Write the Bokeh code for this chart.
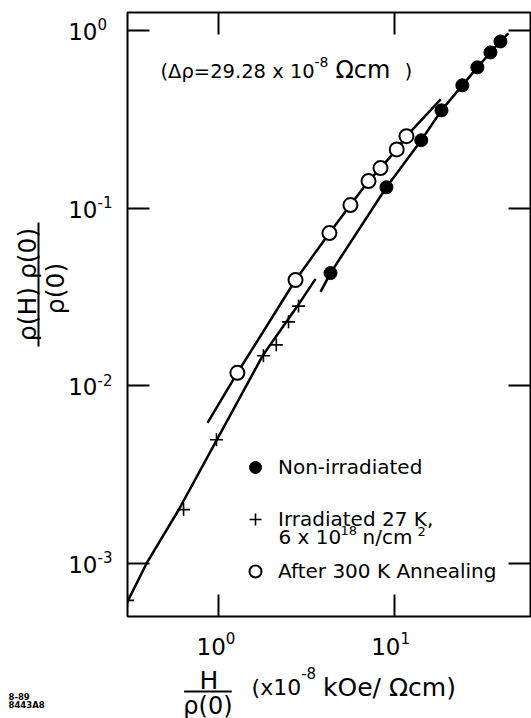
import math
from bokeh.plotting import figure
from bokeh.layouts import row, column
from bokeh.models import (Range1d, LogAxis, FixedTicker, CustomJSTickFormatter, Label,
                          Legend, LegendItem, BoxAnnotation)
from bokeh.embed import file_html
from bokeh.resources import INLINE

# ---------------- data ----------------
nonirr_x = [4.33, 9.0, 14.2, 18.5, 24.3, 29.6, 35.1, 40.0]
nonirr_y = [0.0431, 0.131, 0.241, 0.355, 0.491, 0.620, 0.752, 0.867]
nonirr_fit_x = [3.80, 4.33, 9.0, 14.2, 18.5, 24.3, 29.6, 35.1, 40.0, 44.4]
nonirr_fit_y = [0.0338, 0.0431, 0.131, 0.241, 0.355, 0.491, 0.620, 0.752, 0.867, 0.962]

irr_x = [0.304, 0.633, 0.974, 1.80, 2.13, 2.50, 2.85]
irr_y = [6.2e-4, 2.01e-3, 4.97e-3, 1.475e-2, 1.70e-2, 2.29e-2, 2.81e-2]
irr_fit_x = [0.304, 0.390, 0.593, 0.987, 1.78, 2.81, 3.56]
irr_fit_y = [6.1e-4, 1.0e-3, 2.0e-3, 5.04e-3, 1.475e-2, 2.81e-2, 4.0e-2]

ann_x = [1.28, 2.74, 4.27, 5.62, 7.12, 8.33, 10.3, 11.7]
ann_y = [0.01183, 0.0394, 0.0724, 0.104, 0.142, 0.168, 0.214, 0.254]
ann_fit_x = [0.866, 1.28, 2.74, 4.27, 5.62, 7.12, 8.33, 10.3, 11.7, 18.3]
ann_fit_y = [0.00619, 0.01183, 0.0394, 0.0724, 0.104, 0.142, 0.168, 0.214, 0.254, 0.409]

x_ticks = [1, 10]
x_tick_exp = ["0", "1"]
y_ticks = [1, 0.1, 0.01, 0.001]
y_tick_exp = ["0", "-1", "-2", "-3"]

series_labels = ["Non-irradiated", "Irradiated 27 K,", "After 300 K Annealing"]

X_MIN, X_MAX = 0.304, 59.3
Y_MIN, Y_MAX = 5.03e-4, 1.262

FONT = "DejaVu Sans"

# page geometry
LEFT_W = 125
MAIN_W, MAIN_H = 406, 618
BOT_H = 100
FR_L, FR_R, FR_T, FR_B = 127, 530, 12, 616


def xpix(v):
    return FR_L + (math.log10(v) - math.log10(X_MIN)) / (math.log10(X_MAX) - math.log10(X_MIN)) * (FR_R - FR_L)


def ypix(v):
    return FR_B - (math.log10(v) - math.log10(Y_MIN)) / (math.log10(Y_MAX) - math.log10(Y_MIN)) * (FR_B - FR_T)


# ---------------- main plot ----------------
p = figure(width=MAIN_W, height=MAIN_H, x_axis_type="log", y_axis_type="log",
           x_range=Range1d(X_MIN, X_MAX), y_range=Range1d(Y_MIN, Y_MAX),
           output_backend="svg", toolbar_location=None,
           min_border_left=2, min_border_right=1, min_border_top=12,
           min_border_bottom=2)
p.background_fill_color = "white"
p.border_fill_color = "white"
p.outline_line_color = "black"
p.outline_line_width = 2
p.xgrid.visible = False
p.ygrid.visible = False


def style(ax, ticks):
    ax.ticker = FixedTicker(ticks=ticks)
    ax.formatter = CustomJSTickFormatter(code="return ''")
    ax.major_tick_in = 22
    ax.major_tick_out = 0
    ax.major_tick_line_width = 2
    ax.major_tick_line_color = "black"
    ax.minor_tick_line_color = None
    ax.axis_line_color = None
    ax.major_label_text_font_size = "0px"
    ax.major_label_standoff = 0


style(p.xaxis[0], x_ticks)
style(p.yaxis[0], y_ticks)
top_ax = LogAxis()
right_ax = LogAxis()
style(top_ax, x_ticks)
style(right_ax, y_ticks)
p.add_layout(top_ax, "above")
p.add_layout(right_ax, "right")

p.line(nonirr_fit_x, nonirr_fit_y, line_color="black", line_width=2.5)
p.line(irr_fit_x, irr_fit_y, line_color="black", line_width=2.5)
p.line(ann_fit_x, ann_fit_y, line_color="black", line_width=2.5)

r1 = p.scatter(nonirr_x, nonirr_y, marker="circle", size=13, fill_color="black", line_color="black")
r2 = p.scatter(irr_x, irr_y, marker="cross", size=13, line_color="black", line_width=1.6)
r3 = p.scatter(ann_x, ann_y, marker="circle", size=14, fill_color="white", line_color="black", line_width=2)

legend = Legend(items=[LegendItem(label=series_labels[0], renderers=[r1]),
                       LegendItem(label=series_labels[1], renderers=[r2]),
                       LegendItem(label=series_labels[2], renderers=[r3])],
                location=(113, 30), padding=0, margin=0, spacing=22,
                glyph_width=30, glyph_height=30, label_height=30, label_standoff=8,
                label_text_font=FONT, label_text_font_size="20px",
                label_text_color="black",
                border_line_color=None, background_fill_alpha=0)
p.add_layout(legend)


def lab(fig, text, x, y, size, xu="data", yu="data", align="left", base="middle",
        angle=0, style="normal"):
    fig.add_layout(Label(text=text, x=x, y=y, x_units=xu, y_units=yu, text_align=align,
                         text_baseline=base, angle=angle,
                         text_font=FONT, text_font_size=size, text_font_style=style,
                         text_color="black"))


def flab(text, page_x, page_y, size, align="left"):
    # label inside the main frame, given in page pixels
    lab(p, text, page_x - FR_L, FR_B - page_y, size, xu="screen", yu="screen", align=align)


# legend second line
flab("6 x 10", 278, 536, "20px")
flab("18", 340, 530, "13px")
flab("n/cm", 362, 536, "20px")
flab("2", 417, 531, "13px")

# annotation
flab("(Δρ=29.28 x 10", 160, 70.5, "19.5px")
flab("-8", 314, 61, "14px")
flab("Ωcm", 335, 69, "24px")
flab(")", 404, 70, "20px")


def blank_fig(w, h, x0, x1, y0, y1):
    f = figure(width=w, height=h, x_range=Range1d(x0, x1), y_range=Range1d(y0, y1),
               output_backend="svg", toolbar_location=None,
               x_axis_location=None, y_axis_location=None,
               min_border_left=0, min_border_right=0, min_border_top=0, min_border_bottom=0)
    f.outline_line_color = None
    f.xgrid.visible = False
    f.ygrid.visible = False
    f.background_fill_color = "white"
    f.border_fill_color = "white"
    return f


# ---------------- left strip: y tick labels, y label ----------------
lf = blank_fig(LEFT_W, MAIN_H + BOT_H, 0, LEFT_W, MAIN_H + BOT_H, 0)
for v, e in zip(y_ticks, y_tick_exp):
    yy = ypix(v)
    lab(lf, "10", 97, yy + 1, "23px", align="right")
    lab(lf, e, 97, yy - 6, "15px", align="left")

lab(lf, "ρ(H) ρ(0)", 27, 284, "25px", align="center", angle=math.pi / 2)
lf.add_layout(BoxAnnotation(left=37, right=39, top=222, bottom=346,
                            fill_color="black", fill_alpha=1, line_color=None))
lab(lf, "ρ(0)", 55, 288, "25px", align="center", angle=math.pi / 2)

lab(lf, "8-89", 8, 696, "8.5px", style="bold")
lab(lf, "8443A8", 8, 704.5, "8.5px", style="bold")

# ---------------- bottom strip: x tick labels, x label ----------------
bf = blank_fig(MAIN_W, BOT_H, LEFT_W, LEFT_W + MAIN_W, MAIN_H + BOT_H, MAIN_H)
for v, e in zip(x_ticks, x_tick_exp):
    xx = xpix(v)
    lab(bf, "10", xx + 6, 646, "23px", align="right")
    lab(bf, e, xx + 6, 637, "15px", align="left")

lab(bf, "H", 207, 680, "25px", align="center")
bf.add_layout(BoxAnnotation(left=182, right=230, top=690, bottom=692,
                            fill_color="black", fill_alpha=1, line_color=None))
lab(bf, "ρ(0)", 206, 705, "24px", align="center")
lab(bf, "(x10", 250, 687, "22px")
lab(bf, "-8", 300, 672.5, "15px")
lab(bf, "kOe/ Ωcm)", 322, 687, "25px")

layout = row(lf, column(p, bf))
open("out.html", "w").write(file_html(layout, INLINE))
